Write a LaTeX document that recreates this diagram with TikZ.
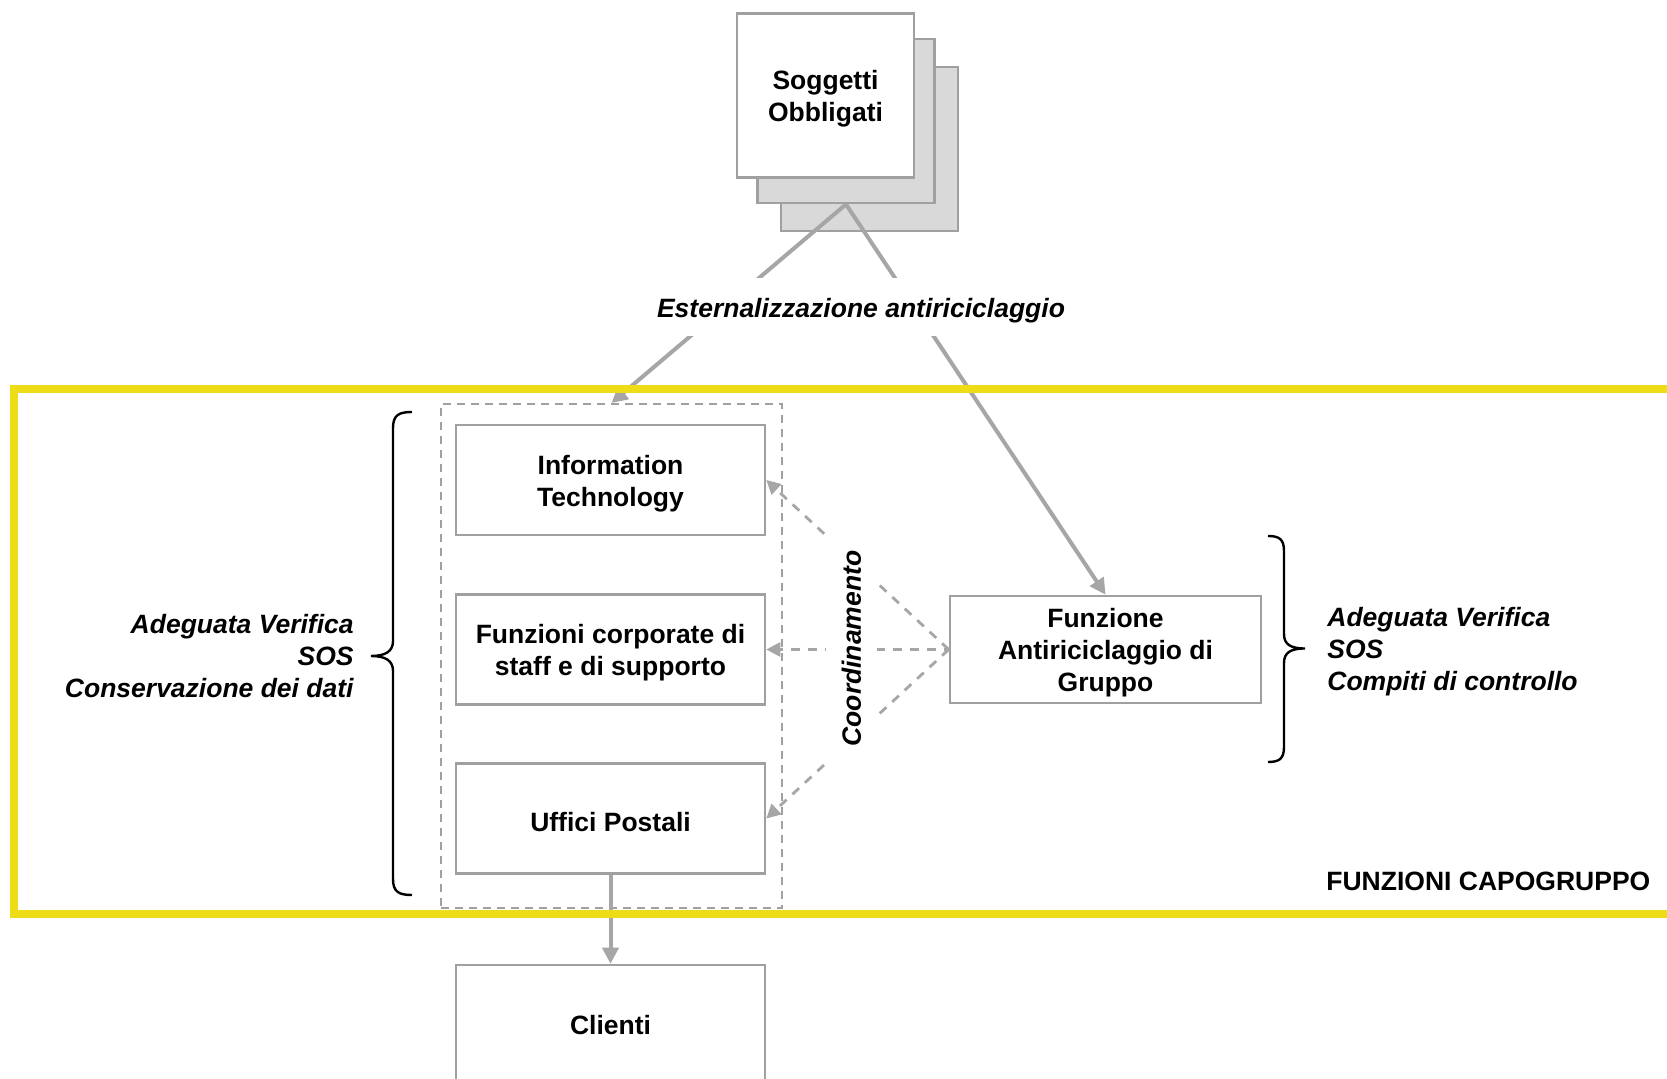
\documentclass[tikz,border=0pt]{standalone}
\usepackage{fontspec}
\setmainfont{Liberation Sans}
\usetikzlibrary{arrows.meta}
\definecolor{ybord}{RGB}{238,221,22}
\definecolor{gbord}{RGB}{160,160,160}
\definecolor{gfill}{RGB}{217,217,217}
\definecolor{garrow}{RGB}{166,166,166}
\newcommand{\tstr}{\rule{0pt}{12.9pt}}
\begin{document}
\begin{tikzpicture}[x=0.5pt,y=-0.5pt,
  every node/.style={font=\fontsize{13.25pt}{16pt}\selectfont\bfseries},
  box/.style={draw=gbord, line width=1.3pt, fill=white, align=center, inner sep=0pt, minimum width=154.5pt, minimum height=55pt},
  shadowbox/.style={draw=gbord, line width=1.3pt, fill=gfill, minimum width=88.5pt, minimum height=82pt, inner sep=0pt},
  conn/.style={draw=garrow, line width=2pt, -{Triangle[length=8pt,width=8pt]}},
  coordarrow/.style={draw=garrow, line width=1.4pt, dash pattern=on 4.5pt off 4pt, -{Triangle[length=7pt,width=7pt]}},
  grpbox/.style={draw=gbord, line width=1pt, dash pattern=on 4pt off 3pt, inner sep=0pt},
  bracepath/.style={draw=black, line width=1.2pt},
  lbl/.style={font=\fontsize{13.25pt}{16pt}\selectfont\bfseries\itshape}
]
\fill[white] (0,0) rectangle (1667,1079);
\useasboundingbox (0,0) rectangle (1667,1079);

% Soggetti obbligati stack
\node[shadowbox] (s3) at (869.5,149) {};
\node[shadowbox] (s2) at (846,121) {};
\node[box, minimum width=88.5pt, minimum height=82pt] (s1) at (825.5,95.5) {\tstr Soggetti\\Obbligati};

% group dashed box
\node[grpbox, minimum width=170.5pt, minimum height=252pt] (grp) at (611.5,656) {};

% boxes
\node[box] (it) at (610.5,480) {\tstr Information\\Technology};
\node[box] (fc) at (610.5,649.5) {\tstr Funzioni corporate di\\staff e di supporto};
\node[box] (up) at (610.5,818.5) {\tstr Uffici Postali};
\node[box, minimum height=60pt] (cl) at (610.5,1025) {Clienti};
\node[box, minimum width=155.5pt, minimum height=53.5pt] (fa) at (1105.5,649.5) {\tstr Funzione\\Antiriciclaggio di\\Gruppo};

% connectors
\draw[conn] (s2.south) -- (grp.north);
\draw[conn] (s2.south) -- (fa.north);
\draw[conn] (up.south) -- (cl.north);
\node[lbl, fill=white, inner xsep=4pt, inner ysep=6.5pt] (est) at (861,307) {\tstr Esternalizzazione antiriciclaggio};

\draw[coordarrow] (fa.west) -- (it.east);
\draw[coordarrow, dash phase=2pt] (fa.west) -- (fc.east);
\draw[coordarrow] (fa.west) -- (up.east);
\node[lbl, rotate=90, fill=white, inner xsep=8pt, inner ysep=8pt] (coordlbl) at (851.5,648.5) {Coordinamento};

% yellow frame
\draw[ybord, line width=3.75pt] (14,389) rectangle (1720,914);

% left brace
\draw[bracepath] (412,412) .. controls (399,412) and (393,415) .. (393,428) -- (393,641)
  .. controls (393,651) and (386,656) .. (371,656)
  .. controls (386,656) and (393,661) .. (393,671) -- (393,879)
  .. controls (393,892) and (399,895) .. (412,895);
\node[lbl, align=right, anchor=east, inner sep=0pt] (ltxt) at (354,656) {Adeguata Verifica\\SOS\\Conservazione dei dati};

% right brace
\draw[bracepath] (1268,536) .. controls (1279,536) and (1284,539) .. (1284,551) -- (1284,634)
  .. controls (1284,644) and (1290,648.5) .. (1305,648.5)
  .. controls (1290,648.5) and (1284,653) .. (1284,663) -- (1284,747)
  .. controls (1284,759) and (1279,762) .. (1268,762);
\node[lbl, align=left, anchor=west, inner sep=0pt] (rtxt) at (1327,652) {Adeguata Verifica\\SOS\\Compiti di controllo};

\node[anchor=west, inner sep=0pt] (fcap) at (1326,881) {FUNZIONI CAPOGRUPPO};
\end{tikzpicture}
\end{document}
